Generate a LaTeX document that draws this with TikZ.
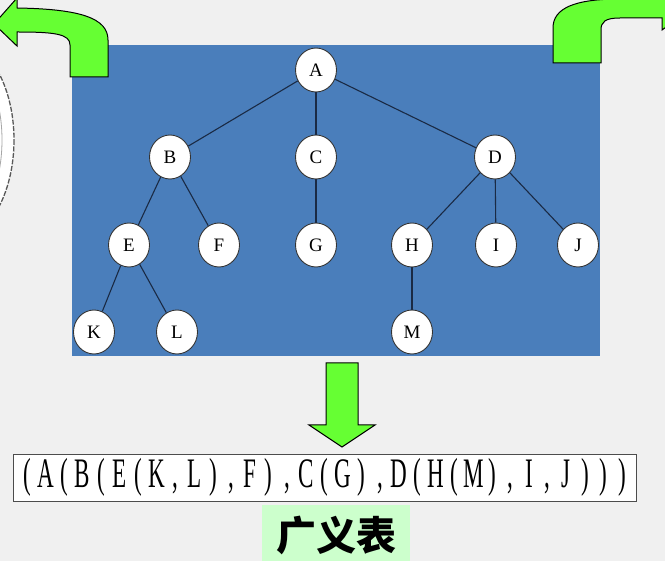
\documentclass[tikz,border=0pt]{standalone}
\usepackage{fontspec}
\setmainfont{Liberation Serif}
\newfontfamily\cjk{Noto Sans CJK SC}
\definecolor{slidebg}{HTML}{F0F0F0}
\definecolor{panelblue}{HTML}{4A7EBB}
\definecolor{arrowgreen}{HTML}{66FF33}
\definecolor{labelgreen}{HTML}{CCFFCC}
\definecolor{edgedark}{HTML}{1A2A44}
\usetikzlibrary{shapes.geometric}
\newcommand{\lch}[1]{\makebox[18.6pt]{\scalebox{0.55}[1]{#1}}}% one narrow list character
\begin{document}
\begin{tikzpicture}[x=1pt, y=-1pt,
  treenode/.style={ellipse, draw=black!80, fill=white, line width=0.9pt,
    minimum width=41pt, minimum height=44pt, inner sep=0pt,
    font=\fontsize{19}{19}\selectfont},
  treeedge/.style={edgedark, line width=1.1pt},
  greenarrow/.style={fill=arrowgreen, draw=black, line width=1pt}]
  \useasboundingbox[fill=slidebg] (0,0) rectangle (665,561);
  \clip (0,0) rectangle (665,561);

  % ellipse cut by the left edge
  \draw[black!65, dash pattern=on 5pt off 1.5pt, fill=white, line width=1.3pt]
    (-45,140) ellipse [x radius=59, y radius=100];
  \draw[gray!70, line width=0.8pt] (-45,140) ellipse [x radius=47, y radius=90];

  % blue panel
  \fill[panelblue] (72,45) rectangle (600,356);

  % curved arrows at the top
  \draw[greenarrow] (108,77) -- (108,40) .. controls (108,18) and (80,9) .. (17,8)
    -- (17,-2) -- (-6,24) -- (17,46) -- (17,32) .. controls (55,32) and (70,34) .. (70,45)
    -- (70,77) -- cycle;
  \draw[greenarrow] (553,63) -- (553,28) .. controls (553,8) and (575,-1) .. (620,-1)
    -- (662,-1) -- (662,-12) -- (690,10) -- (662,30) -- (662,18) -- (620,18)
    .. controls (605,18) and (601,22) .. (601,30) -- (601,63) -- cycle;

  % tree
  \node[treenode] (A) at (316,70) {A};
  \node[treenode] (B) at (170,157) {B};
  \node[treenode] (C) at (316,157) {C};
  \node[treenode] (D) at (495,157) {D};
  \node[treenode] (E) at (129,245) {E};
  \node[treenode] (F) at (219,245) {F};
  \node[treenode] (G) at (316,245) {G};
  \node[treenode] (H) at (412,245) {H};
  \node[treenode] (I) at (496,245) {I};
  \node[treenode] (J) at (578,245) {J};
  \node[treenode] (K) at (94,332) {K};
  \node[treenode] (L) at (177,332) {L};
  \node[treenode] (M) at (412,332) {M};
  \foreach \p/\c in {A/B,A/C,A/D,B/E,B/F,C/G,D/H,D/I,D/J,E/K,E/L,H/M}
    \draw[treeedge] (\p) -- (\c);

  % down arrow
  \draw[greenarrow] (326,363) -- (358,363) -- (358,425) -- (375,425) -- (342,447)
    -- (309,425) -- (326,425) -- cycle;

  % generalized list
  \node[draw=gray!60!black, fill=white, line width=0.8pt, minimum width=623pt,
    minimum height=47pt, inner sep=0pt, font=\fontsize{42}{42}\selectfont] (listtext) at (324.5,477.5)
    {\lch{(}\lch{A}\lch{(}\lch{B}\lch{(}\lch{E}\lch{(}\lch{K}\lch{,}\lch{L}\lch{)}%
     \lch{,}\lch{F}\lch{)}\lch{,}\lch{C}\lch{(}\lch{G}\lch{)}\lch{,}\lch{D}\lch{(}%
     \lch{H}\lch{(}\lch{M}\lch{)}\lch{,}\lch{I}\lch{,}\lch{J}\lch{)}\lch{)}\lch{)}};
  \fill[labelgreen] (262,505) rectangle (410,561);
  \node[font=\cjk\bfseries\fontsize{40}{40}\selectfont] (listname) at (336,535) {广义表};
\end{tikzpicture}
\end{document}
